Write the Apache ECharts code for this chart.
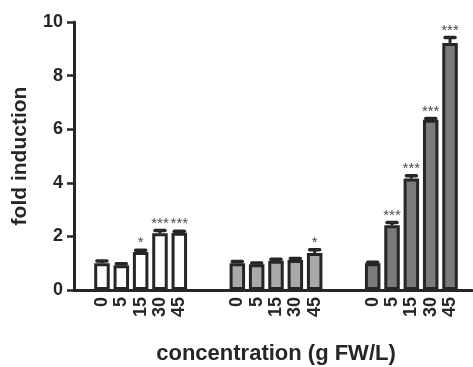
<!DOCTYPE html>
<html>
<head>
<meta charset="utf-8">
<style>
    html, body { margin: 0; padding: 0; background: #fff; }
    #chart { width: 473px; height: 367px; }
</style>
<script src="https://cdn.jsdelivr.net/npm/echarts@6/dist/echarts.min.js"></script>
</head>
<body>
<div id="chart"></div>
<script>
// 浓度 (g FW/L)
var acDose = ['0', '5', '15', '30', '45'];

// 三组数据：倍数、误差、显著性
var anGroup1 = [1.0, 0.92, 1.42, 2.12, 2.14];
var anGroup1Err = [0.08, 0.06, 0.06, 0.1, 0.05];
var acGroup1Sig = ['', '', '*', '***', '***'];

var anGroup2 = [1.0, 0.96, 1.09, 1.12, 1.38];
var anGroup2Err = [0.06, 0.05, 0.06, 0.06, 0.12];
var acGroup2Sig = ['', '', '', '', '*'];

var anGroup3 = [1.0, 2.42, 4.16, 6.35, 9.22];
var anGroup3Err = [0.04, 0.1, 0.1, 0.05, 0.2];
var acGroup3Sig = ['', '***', '***', '***', '***'];

var anYTicks = [0, 2, 4, 6, 8, 10];

var cFont = '"Liberation Sans", Arial, sans-serif';
var cLine = '#262626';
var acFill = ['#ffffff', '#a9a9ab', '#7b7b7d'];
var nGap = 2; // 组间空位

// 组合成一条分类轴
var aoGroups = [
    {val: anGroup1, err: anGroup1Err, sig: acGroup1Sig},
    {val: anGroup2, err: anGroup2Err, sig: acGroup2Sig},
    {val: anGroup3, err: anGroup3Err, sig: acGroup3Sig}
];
var acCategory = [];
var aoBarData = [[], [], []];
var aoErrData = [];
var acSig = [];
for (var g = 0; g < aoGroups.length; g++) {
    if (g > 0) {
        for (var k = 0; k < nGap; k++) {
            acCategory.push('');
        }
    }
    for (var i = 0; i < acDose.length; i++) {
        acCategory.push(acDose[i]);
    }
}
for (var g = 0; g < aoGroups.length; g++) {
    var nStart = g * (acDose.length + nGap);
    for (var j = 0; j < acCategory.length; j++) {
        var nIdx = j - nStart;
        aoBarData[g].push(nIdx >= 0 && nIdx < acDose.length ? aoGroups[g].val[nIdx] : '-');
    }
    for (var i = 0; i < acDose.length; i++) {
        aoErrData.push([nStart + i, aoGroups[g].val[i], aoGroups[g].err[i]]);
        acSig.push(aoGroups[g].sig[i]);
    }
}

// 误差线 + 星号
function renderErr(params, api) {
    var oBase = api.coord([api.value(0), api.value(1)]);
    var oTop = api.coord([api.value(0), api.value(1) + api.value(2)]);
    var x = oBase[0];
    var aoChild = [{
        type: 'line',
        shape: {x1: x, y1: oBase[1], x2: x, y2: oTop[1]},
        style: {stroke: cLine, lineWidth: 3}
    }, {
        type: 'line',
        shape: {x1: x - 5, y1: oTop[1], x2: x + 5, y2: oTop[1]},
        style: {stroke: cLine, lineWidth: 3.5, lineCap: 'round'}
    }];
    var cSig = acSig[params.dataIndex];
    if (cSig) {
        aoChild.push({
            type: 'text',
            x: x,
            y: oTop[1] - 7,
            style: {
                text: cSig,
                align: 'center',
                verticalAlign: 'middle',
                fill: '#4a4a4a',
                font: '15px ' + cFont
            }
        });
    }
    return {type: 'group', children: aoChild};
}

var aoSer = [];
for (var g = 0; g < 3; g++) {
    aoSer.push({
        type: 'bar',
        xAxisIndex: 0,
        yAxisIndex: 0,
        barWidth: 15.5,
        barGap: '-100%',
        itemStyle: {color: acFill[g], borderColor: cLine, borderWidth: 3},
        data: aoBarData[g]
    });
}
aoSer.push({
    type: 'custom',
    xAxisIndex: 0,
    yAxisIndex: 0,
    z: 5,
    renderItem: renderErr,
    data: aoErrData
});

var oChart = echarts.init(document.getElementById('chart'), null, {renderer: 'canvas'});
var oOpt = {
    animation: false,
    backgroundColor: '#fff',
    grid: [{
        left: 92.3, right: 13.3, top: 22, bottom: 77,
        containLabel: false,
        outerBoundsMode: 'none'
    }, {
        left: 74, right: 1, top: 22, bottom: 77,
        containLabel: false,
        outerBoundsMode: 'none'
    }],
    xAxis: [{
        type: 'category',
        gridIndex: 0,
        data: acCategory,
        axisLine: {show: false},
        axisTick: {show: false},
        axisLabel: {
            interval: 0,
            rotate: 90,
            margin: 7,
            color: cLine,
            fontWeight: 'bold',
            fontSize: 18,
            fontFamily: cFont
        }
    }, {
        type: 'value',
        gridIndex: 1,
        min: 0,
        max: 1,
        axisLine: {show: true, onZero: false, lineStyle: {color: cLine, width: 3}},
        axisTick: {show: false},
        axisLabel: {show: false},
        splitLine: {show: false},
        name: 'concentration (g FW/L)',
        nameLocation: 'middle',
        nameGap: 53,
        nameTextStyle: {color: cLine, fontWeight: 'bold', fontSize: 22, fontFamily: cFont, padding: [0, 0, 0, 6]}
    }],
    yAxis: [{
        type: 'value',
        gridIndex: 0,
        min: 0,
        max: 10,
        show: false
    }, {
        type: 'value',
        gridIndex: 1,
        min: 0,
        max: 10,
        interval: 2,
        axisLine: {show: true, onZero: false, lineStyle: {color: cLine, width: 3}},
        axisTick: {show: true, length: 7, lineStyle: {color: cLine, width: 2.5}},
        axisLabel: {
            margin: 11,
            color: cLine,
            fontWeight: 'bold',
            fontSize: 18,
            fontFamily: cFont,
            formatter: function (v) { return anYTicks.indexOf(v) >= 0 ? String(v) : ''; }
        },
        splitLine: {show: false},
        name: 'fold induction',
        nameLocation: 'middle',
        nameRotate: 90,
        nameGap: 43,
        nameTextStyle: {color: cLine, fontWeight: 'bold', fontSize: 21, fontFamily: cFont}
    }],
    series: aoSer
};
oChart.setOption(oOpt);
</script>
</body>
</html>
